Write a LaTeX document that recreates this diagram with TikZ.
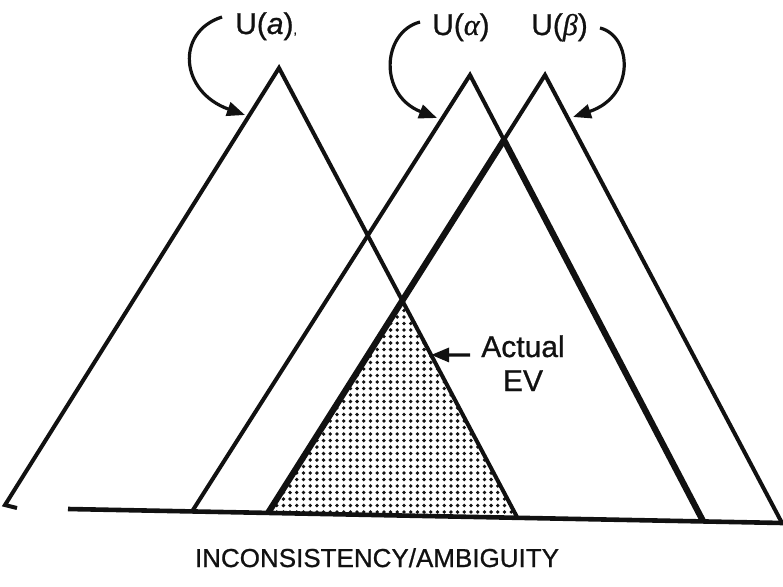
\documentclass[tikz,border=0pt]{standalone}
\usepackage{fontspec}
\setmainfont{Liberation Sans}[FakeBold=0.8]
\newfontfamily\greekit{Liberation Serif}[FakeBold=0.8]
\usepackage{tikz}
\usetikzlibrary{arrows.meta, calc}
\definecolor{evInk}{HTML}{111111}
\tikzset{
  leg/.style     ={line width=4pt, draw=evInk},
  boldleg/.style ={line width=6.2pt, draw=evInk},
  axis/.style    ={line width=4.6pt, draw=evInk},
  ulbl/.style    ={inner sep=0pt, anchor=base west, font=\fontsize{30}{30}\selectfont, text=evInk},
  evlbl/.style   ={inner sep=0pt, anchor=base, font=\fontsize{30}{30}\selectfont, text=evInk},
  uarr/.style    ={-{Triangle[length=18pt,width=14pt]}, line width=3.2pt, draw=evInk},
}

\begin{document}
\begin{tikzpicture}[x=1pt,y=-1pt]
\useasboundingbox (0,0) rectangle (783,586);
% ---- corners of the three triangles ----
\coordinate (aT) at (279,68);
\coordinate (aL) at (5,505);
\coordinate (aS) at (17,508);
\coordinate (aR) at (517,517);
\coordinate (bT) at (470,75);
\coordinate (bL) at (192,511.5);
\coordinate (bR) at (703,521);
\coordinate (cT) at (545,75);
\coordinate (cL) at (268,513);
\coordinate (cR) at (782,523);
\coordinate (b0) at (68,509);
\coordinate (b1) at (783,523);
\coordinate (X)  at (intersection of bT--bR and cT--cL);
\coordinate (E)  at (intersection of aT--aR and cT--cL);

% ---- actual EV (dotted fill) ----
\begin{scope}
  \clip (E) -- (cL) -- (aR) -- cycle;
  \foreach \i in {0,...,38} {
    \foreach \j in {0,...,34} {
      \fill[evInk] (270+6.7*\i, 304+6.5*\j) circle[radius=1.9pt];
    }
  }
\end{scope}

% ---- triangles ----
\draw[leg] (aS) -- (aL) -- (aT) -- (aR);
\draw[leg] (bL) -- (bT) -- (X);
\draw[boldleg] (X) -- (bR);
\draw[leg] (X) -- (cT) -- (cR);
\draw[boldleg] (X) -- (cL);
\draw[axis] (b0) -- (b1);

% ---- labels ----
\node[ulbl] (ua) at (235,34) {U(\textit{a}){\fontsize{12}{12}\selectfont,}};
\node[ulbl] (ual) at (432,35) {U({\greekit\itshape α})};
\node[ulbl] (ube) at (531,35) {U({\greekit\itshape β})};
\node[evlbl] (act) at (523,357) {Actual};
\node[evlbl] (ev)  at (523,391) {EV};
\node[inner sep=0pt, anchor=base, font=\fontsize{26}{26}\selectfont, text=evInk]
  (axlbl) at (377,567) {INCONSISTENCY/AMBIGUITY};

% ---- arrows ----
\coordinate (uaS)  at (222,17);
\coordinate (uaE)  at (245,115);
\coordinate (ualS) at (420,22);
\coordinate (ualE) at (437,118);
\coordinate (ubeS) at (600,28);
\coordinate (ubeE) at (573,117);
\coordinate (evS)  at (470,355);
\coordinate (evE)  at ($(aT)!0.639!(aR)$);
\draw[uarr] (uaS) .. controls (175,32) and (180,92) .. (uaE);
\draw[uarr] (ualS) .. controls (382,32) and (378,95) .. (ualE);
\draw[uarr] (ubeS) .. controls (632,36) and (636,96) .. (ubeE);
\draw[uarr] (evS) -- (evE);
\end{tikzpicture}
\end{document}
